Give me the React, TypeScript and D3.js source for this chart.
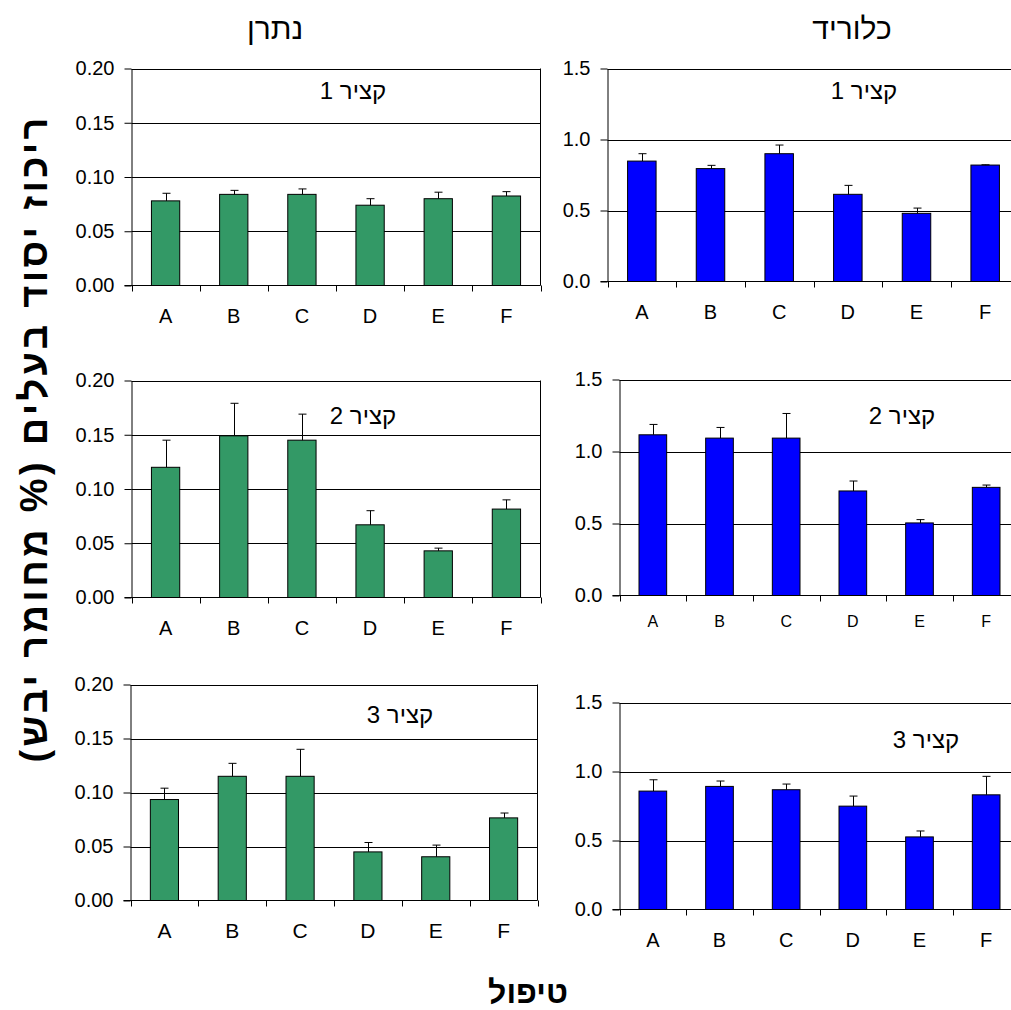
import React, { useEffect, useRef } from 'react';
import * as d3 from 'd3';

const treatments = ['A', 'B', 'C', 'D', 'E', 'F'];

const sodiumHarvest1 = [0.078, 0.084, 0.084, 0.074, 0.08, 0.0825];
const sodiumHarvest1Err = [0.007, 0.0037, 0.005, 0.006, 0.006, 0.004];
const sodiumHarvest2 = [0.12, 0.149, 0.145, 0.067, 0.043, 0.0815];
const sodiumHarvest2Err = [0.025, 0.03, 0.024, 0.013, 0.0025, 0.0085];
const sodiumHarvest3 = [0.0935, 0.115, 0.115, 0.045, 0.0405, 0.0765];
const sodiumHarvest3Err = [0.0105, 0.012, 0.025, 0.0087, 0.0108, 0.0045];

const chlorideHarvest1 = [0.848, 0.795, 0.9, 0.614, 0.48, 0.82];
const chlorideHarvest1Err = [0.052, 0.023, 0.061, 0.063, 0.037, 0.002];
const chlorideHarvest2 = [1.116, 1.093, 1.093, 0.726, 0.504, 0.751];
const chlorideHarvest2Err = [0.072, 0.074, 0.171, 0.069, 0.023, 0.016];
const chlorideHarvest3 = [0.858, 0.892, 0.868, 0.749, 0.526, 0.831];
const chlorideHarvest3Err = [0.082, 0.039, 0.041, 0.073, 0.043, 0.134];

const sodiumTicks = [0, 0.05, 0.1, 0.15, 0.2];
const chlorideTicks = [0, 0.5, 1.0, 1.5];
const harvestLabels = ['קציר 1', 'קציר 2', 'קציר 3'];
const columnTitles = ['נתרן', 'כלוריד'];
const yTitle = 'ריכוז יסוד בעלים (% מחומר יבש)';
const xTitle = 'טיפול';

const FONT = "Arial, 'Liberation Sans', sans-serif";

// panel boxes: x0 = value axis, x1 = right edge, top/bottom of plot area
const panels = [
  { values: sodiumHarvest1, errs: sodiumHarvest1Err, ticks: sodiumTicks, fmt: '.2f', color: '#339966', label: harvestLabels[0],
    x0: 131.5, x1: 540.5, top: 68.5, bottom: 285.5, labelX: 353, labelY: 99, xFont: 20 },
  { values: chlorideHarvest1, errs: chlorideHarvest1Err, ticks: chlorideTicks, fmt: '.1f', color: '#0000FF', label: harvestLabels[0],
    x0: 607.5, x1: 1019.5, top: 68.5, bottom: 281.5, labelX: 864, labelY: 99, xFont: 20 },
  { values: sodiumHarvest2, errs: sodiumHarvest2Err, ticks: sodiumTicks, fmt: '.2f', color: '#339966', label: harvestLabels[1],
    x0: 131.5, x1: 540.5, top: 380.5, bottom: 597.5, labelX: 363, labelY: 424, xFont: 20 },
  { values: chlorideHarvest2, errs: chlorideHarvest2Err, ticks: chlorideTicks, fmt: '.1f', color: '#0000FF', label: harvestLabels[1],
    x0: 619.5, x1: 1019.5, top: 379.5, bottom: 595.5, labelX: 902, labelY: 424, xFont: 16 },
  { values: sodiumHarvest3, errs: sodiumHarvest3Err, ticks: sodiumTicks, fmt: '.2f', color: '#339966', label: harvestLabels[2],
    x0: 130.5, x1: 537.5, top: 684.5, bottom: 900.5, labelX: 400, labelY: 723, xFont: 21 },
  { values: chlorideHarvest3, errs: chlorideHarvest3Err, ticks: chlorideTicks, fmt: '.1f', color: '#0000FF', label: harvestLabels[2],
    x0: 619.5, x1: 1019.5, top: 702.5, bottom: 909.5, labelX: 926, labelY: 748, xFont: 20 },
];

const App = () => {
  const svgRef = useRef(null);

  useEffect(() => {
    const svg = d3.select(svgRef.current);
    svg.selectAll('*').remove();

    panels.forEach((p) => {
      const g = svg.append('g');
      const y = d3.scaleLinear()
        .domain([p.ticks[0], p.ticks[p.ticks.length - 1]])
        .range([p.bottom, p.top]);
      const x = d3.scaleBand()
        .domain(treatments)
        .range([p.x0, p.x1])
        .paddingInner(0.585)
        .paddingOuter(0.2925);
      const slots = d3.scaleLinear().domain([0, treatments.length]).range([p.x0, p.x1]);

      // gridlines
      g.selectAll('.grid')
        .data(p.ticks.slice(1))
        .join('line')
        .attr('x1', p.x0).attr('x2', p.x1)
        .attr('y1', (d) => Math.round(y(d)) + 0.5).attr('y2', (d) => Math.round(y(d)) + 0.5)
        .attr('stroke', '#000').attr('stroke-width', 1);
      // right border
      g.append('line')
        .attr('x1', p.x1).attr('x2', p.x1).attr('y1', p.top).attr('y2', p.bottom)
        .attr('stroke', '#000');

      // bars
      g.selectAll('.bar')
        .data(p.values)
        .join('rect')
        .attr('x', (d, i) => x(treatments[i]))
        .attr('y', (d) => y(d))
        .attr('width', x.bandwidth())
        .attr('height', (d) => p.bottom - y(d))
        .attr('fill', p.color)
        .attr('stroke', '#000')
        .attr('stroke-width', 1);

      // error bars (upper only)
      const cap = 4;
      p.values.forEach((v, i) => {
        const cx = Math.round(x(treatments[i]) + x.bandwidth() / 2) + 0.5;
        const yt = y(v + p.errs[i]);
        g.append('line').attr('x1', cx).attr('x2', cx).attr('y1', y(v)).attr('y2', yt).attr('stroke', '#000');
        g.append('line').attr('x1', cx - cap).attr('x2', cx + cap).attr('y1', yt).attr('y2', yt).attr('stroke', '#000');
      });

      // y axis
      const yAxis = g.append('g')
        .attr('transform', `translate(${p.x0},0)`)
        .call(d3.axisLeft(y).tickValues(p.ticks).tickSize(7).tickSizeOuter(0).tickPadding(10).tickFormat(d3.format(p.fmt)));
      yAxis.select('.domain').attr('stroke', '#000');
      yAxis.selectAll('.tick line').attr('stroke', '#000');
      yAxis.selectAll('text').attr('font-family', FONT).attr('font-size', 20).attr('fill', '#000');

      // x axis: line, boundary ticks, labels
      g.append('line')
        .attr('x1', p.x0 - 7).attr('x2', p.x1)
        .attr('y1', p.bottom).attr('y2', p.bottom)
        .attr('stroke', '#000');
      g.selectAll('.xtick')
        .data(d3.range(treatments.length + 1))
        .join('line')
        .attr('x1', (d) => Math.round(slots(d)) + 0.5).attr('x2', (d) => Math.round(slots(d)) + 0.5)
        .attr('y1', p.bottom).attr('y2', p.bottom + 6)
        .attr('stroke', '#000');
      const xAxis = g.append('g')
        .attr('transform', `translate(0,${p.bottom})`)
        .call(d3.axisBottom(x).tickSize(0).tickPadding(p.xFont === 16 ? 20 : 23));
      xAxis.select('.domain').remove();
      xAxis.selectAll('text').attr('font-family', FONT).attr('font-size', p.xFont).attr('fill', '#000');

      // harvest label
      g.append('text')
        .attr('x', p.labelX).attr('y', p.labelY)
        .attr('text-anchor', 'middle')
        .attr('direction', 'rtl')
        .attr('font-family', FONT).attr('font-size', 24)
        .text(p.label);
    });

    // column titles
    [275, 852].forEach((cx, i) => {
      svg.append('text')
        .attr('x', cx).attr('y', 39)
        .attr('text-anchor', 'middle')
        .attr('direction', 'rtl')
        .attr('font-family', "'Liberation Sans Narrow', 'Arial Narrow', " + FONT)
        .attr('font-size', 30)
        .text(columnTitles[i]);
    });

    // axis titles
    svg.append('text')
      .attr('transform', 'translate(47,440) rotate(-90)')
      .attr('text-anchor', 'middle')
      .attr('direction', 'rtl')
      .attr('textLength', 645)
      .attr('lengthAdjust', 'spacing')
      .attr('font-family', FONT).attr('font-weight', 'bold').attr('font-size', 38)
      .text(yTitle);
    svg.append('text')
      .attr('x', 528).attr('y', 1003)
      .attr('text-anchor', 'middle')
      .attr('direction', 'rtl')
      .attr('font-family', FONT).attr('font-weight', 'bold').attr('font-size', 32)
      .text(xTitle);
  }, []);

  return (
    <svg
      ref={svgRef}
      width={1011}
      height={1010}
      style={{ position: 'absolute', left: 0, top: 0, background: '#fff', overflow: 'hidden' }}
    />
  );
};

export default App;
